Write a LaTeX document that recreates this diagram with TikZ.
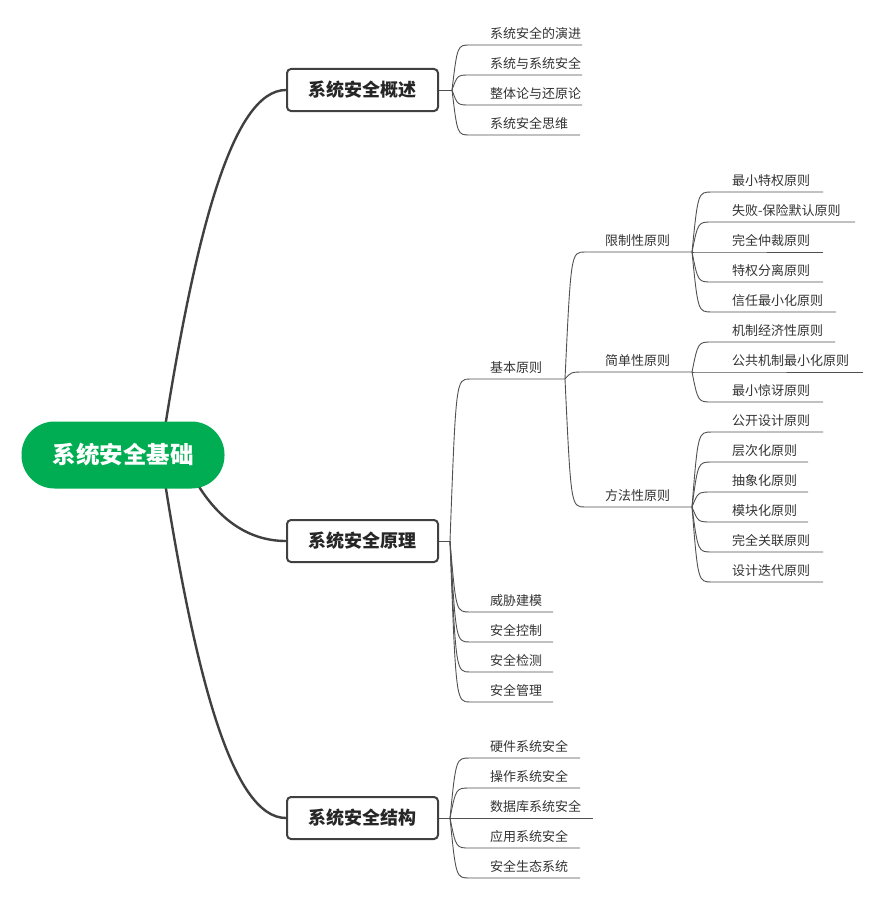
\documentclass[tikz,border=0pt]{standalone}
\usepackage{fontspec}
\newfontfamily\cjk{Noto Sans CJK SC}
\usetikzlibrary{calc,backgrounds}
\definecolor{rootgreen}{RGB}{0,173,82}
\definecolor{linegray}{RGB}{80,80,80}
\definecolor{boxgray}{RGB}{64,64,64}
\definecolor{txtgray}{RGB}{51,51,51}
\tikzset{
  leaf/.style={anchor=base west, inner sep=0pt, font=\cjk\fontsize{13}{13}\selectfont, text=txtgray},
  topic/.style={draw=boxgray, line width=2pt, rounded corners=4pt, fill=white,
    minimum width=151pt, minimum height=42pt, inner sep=0pt,
    font=\cjk\bfseries\fontsize{18}{18}\selectfont, text=black!85},
  rootbox/.style={fill=rootgreen, rounded corners=33pt, minimum width=203pt, minimum height=67pt,
    inner sep=0pt, text=white, font=\cjk\bfseries\fontsize{23.5}{24}\selectfont},
  ln/.style={draw=linegray, line width=0.9pt},
  bigln/.style={draw=boxgray, line width=2.4pt},
}
\newcommand\leaf[6]{%
  \coordinate (#1s) at (#3,#4);
  \coordinate (#1e) at (#5,#4);
  \node[leaf] (#1) at ({#3+20},{#4-7}) {#6};
  \draw[ln] let \p1=(#2), \p2=(#1s) in (\p1) .. controls ({\x1+0.3*(\x2-\x1)},\y2) .. (\p2) -- (#1e);
}
\begin{document}
\begin{tikzpicture}[x=1pt,y=-1pt]
\useasboundingbox (0,0) rectangle (883,899);
% root and topics
\node[rootbox] (root) at (123,455) {系统安全基础};
\node[topic] (t1) at (362.5,90) {系统安全概述};
\node[topic] (t2) at (362.5,541) {系统安全原理};
\node[topic] (t3) at (362.5,818) {系统安全结构};
\coordinate (rt) at (163,440);
\coordinate (rb) at (163,470);
\coordinate (rm) at (195,480);
\begin{scope}[on background layer]
\draw[bigln] (rt) .. controls (195,235) and (232,90) .. (t1.west);
\draw[bigln] (rb) .. controls (195,675) and (232,818) .. (t3.west);
\draw[bigln] (rm) .. controls (215,515) and (245,541) .. (t2.west);
\end{scope}
\coordinate (b1) at (452,90);
\coordinate (b2) at (450,541);
\coordinate (b3) at (450,818);
\draw[ln] (t1.east) -- (b1);
\draw[ln] (t2.east) -- (b2);
\draw[ln] (t3.east) -- (b3);
% overview
\leaf{a1}{b1}{470}{45}{582}{系统安全的演进}
\leaf{a2}{b1}{470}{75}{582}{系统与系统安全}
\leaf{a3}{b1}{470}{105}{582}{整体论与还原论}
\leaf{a4}{b1}{470}{135}{580}{系统安全思维}
% principles
\leaf{j0}{b2}{470}{379}{565}{基本原则}
\leaf{p1}{b2}{470}{612}{553}{威胁建模}
\leaf{p2}{b2}{470}{642}{553}{安全控制}
\leaf{p3}{b2}{470}{672}{553}{安全检测}
\leaf{p4}{b2}{470}{702}{553}{安全管理}
\leaf{k1}{j0e}{585}{252}{692}{限制性原则}
\leaf{k2}{j0e}{585}{372}{692}{简单性原则}
\leaf{k3}{j0e}{585}{507}{692}{方法性原则}
\leaf{m1}{k1e}{712}{192}{823}{最小特权原则}
\leaf{m2}{k1e}{712}{222}{855}{失败-保险默认原则}
\leaf{m3}{k1e}{712}{252}{823}{完全仲裁原则}
\leaf{m4}{k1e}{712}{282}{823}{特权分离原则}
\leaf{m5}{k1e}{712}{312}{836}{信任最小化原则}
\leaf{n1}{k2e}{712}{342}{835}{机制经济性原则}
\leaf{n2}{k2e}{712}{372}{863}{公共机制最小化原则}
\leaf{n3}{k2e}{712}{402}{823}{最小惊讶原则}
\leaf{o1}{k3e}{712}{432}{823}{公开设计原则}
\leaf{o2}{k3e}{712}{462}{808}{层次化原则}
\leaf{o3}{k3e}{712}{492}{808}{抽象化原则}
\leaf{o4}{k3e}{712}{522}{808}{模块化原则}
\leaf{o5}{k3e}{712}{552}{823}{完全关联原则}
\leaf{o6}{k3e}{712}{582}{823}{设计迭代原则}
% structure
\leaf{s1}{b3}{470}{758}{580}{硬件系统安全}
\leaf{s2}{b3}{470}{788}{580}{操作系统安全}
\leaf{s3}{b3}{470}{818}{593}{数据库系统安全}
\leaf{s4}{b3}{470}{848}{580}{应用系统安全}
\leaf{s5}{b3}{470}{878}{580}{安全生态系统}
\end{tikzpicture}
\end{document}
